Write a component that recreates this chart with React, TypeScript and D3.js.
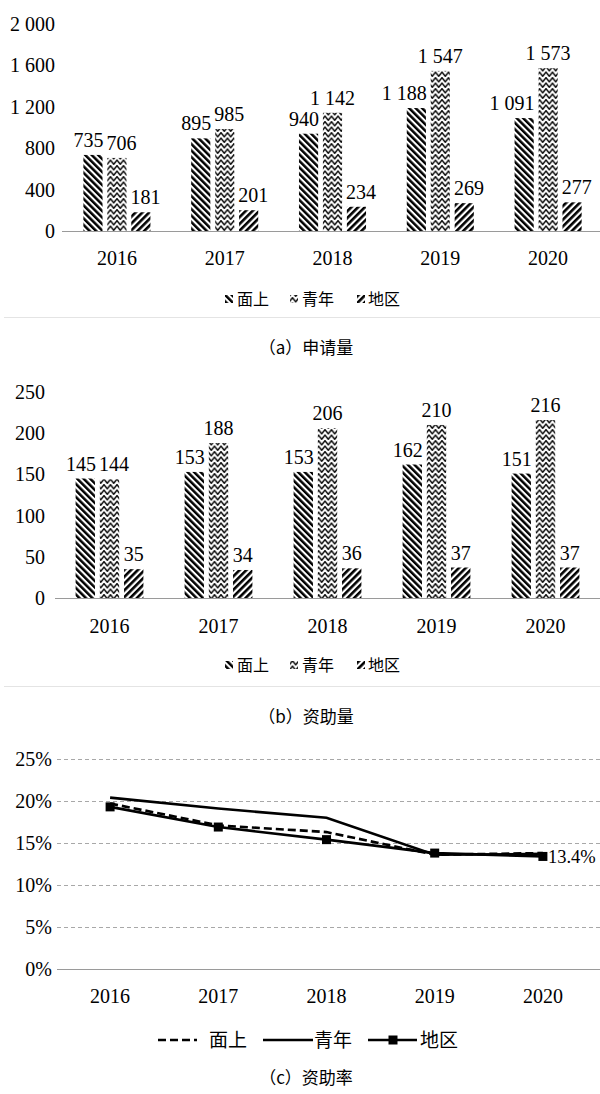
import React from 'react';
import * as d3 from 'd3';

const years = ['2016', '2017', '2018', '2019', '2020'];
const seriesNames = ['面上', '青年', '地区'];

const appMianshang = [735, 895, 940, 1188, 1091];
const appQingnian = [706, 985, 1142, 1547, 1573];
const appDiqu = [181, 201, 234, 269, 277];

const fundMianshang = [145, 153, 153, 162, 151];
const fundQingnian = [144, 188, 206, 210, 216];
const fundDiqu = [35, 34, 36, 37, 37];

const rateMianshang = [19.7, 17.1, 16.3, 13.6, 13.8];
const rateQingnian = [20.4, 19.1, 18.0, 13.6, 13.7];
const rateDiqu = [19.3, 16.9, 15.4, 13.8, 13.4];

const appTicks = [0, 400, 800, 1200, 1600, 2000];
const fundTicks = [0, 50, 100, 150, 200, 250];
const rateTicks = [0, 5, 10, 15, 20, 25];

const captions = ['（a）申请量', '（b）资助量', '（c）资助率'];

const SERIF = '"Liberation Serif", "Times New Roman", Times, serif';
const CJK = '"Noto Sans CJK SC", "Noto Sans", sans-serif';

const locale = d3.formatLocale({ decimal: '.', thousands: ' ', grouping: [3], currency: ['', ''] });
const fmtNum = locale.format(',d');

const patternIds = ['pat-ms', 'pat-qn', 'pat-dq'];

function textW(s: string, fs: number) {
  let w = 0;
  for (const ch of s) {
    if (ch === ' ') w += fs * 0.25;
    else if (ch === '.') w += fs * 0.25;
    else if (ch === '%') w += fs * 0.83;
    else w += fs * 0.5;
  }
  return w;
}

function Patterns() {
  return (
    <defs>
      <pattern id="pat-ms" patternUnits="userSpaceOnUse" width="4.6" height="10" patternTransform="rotate(-45)">
        <rect x="0" y="0" width="4.6" height="10" fill="#fff" />
        <rect x="0" y="0" width="2.5" height="10" fill="#000" />
      </pattern>
      <pattern id="pat-dq" patternUnits="userSpaceOnUse" width="4.8" height="10" patternTransform="rotate(45)">
        <rect x="0" y="0" width="4.8" height="10" fill="#fff" />
        <rect x="0" y="0" width="2.6" height="10" fill="#000" />
      </pattern>
      <pattern id="pat-qn" patternUnits="userSpaceOnUse" width="6.5" height="5.5">
        <rect x="0" y="0" width="6.5" height="5.5" fill="#fff" />
        <path d="M-1.6,2.75 L0,0.7 L3.25,4.8 L6.5,0.7 L8.1,2.75" fill="none" stroke="#000" strokeWidth="1.45" />
      </pattern>
    </defs>
  );
}

type BarPanelProps = {
  data: number[][];
  ticks: number[];
  yDomainMax: number;
  yBase: number;
  yTop: number;
  xStart: number;
  xEnd: number;
  yLabelX: number;
  axisStart: number;
  xLabelY: number;
  legendY: number;
  captionY: number;
  caption: string;
  sepY: number;
};

function BarPanel(p: BarPanelProps) {
  const y = d3.scaleLinear().domain([0, p.yDomainMax]).range([p.yBase, p.yTop]);
  const x0 = d3.scaleBand<string>().domain(years).range([p.xStart, p.xEnd]).paddingInner(0.378).paddingOuter(0.189);
  const x1 = d3.scaleBand<string>().domain(seriesNames).range([0, x0.bandwidth()]).paddingInner(0.2);
  const fs = 20;
  const labelEls: React.ReactNode[] = [];
  years.forEach((yr, gi) => {
    const bars = seriesNames.map((s, si) => {
      const v = p.data[si][gi];
      const bx = (x0(yr) as number) + (x1(s) as number);
      const txt = fmtNum(v);
      const w = textW(txt, fs);
      const top = y(v);
      return { v, txt, w, bx0: bx, bx1: bx + x1.bandwidth(), top, cx: bx + x1.bandwidth() / 2, base: top - 8 };
    });
    bars.forEach((b, i) => {
      const nxt = bars[i + 1];
      if (nxt && nxt.top < b.base - 3 && b.cx + b.w / 2 + 4 > nxt.bx0) b.cx = nxt.bx0 - 4 - b.w / 2;
      const prv = bars[i - 1];
      if (prv && prv.top < b.base - 3 && b.cx - b.w / 2 - 4 < prv.bx1) b.cx = prv.bx1 + 4 + b.w / 2;
    });
    for (let i = 0; i < bars.length - 1; i++) {
      const a = bars[i];
      const c = bars[i + 1];
      if (Math.abs(a.base - c.base) < 14) {
        const ov = a.cx + a.w / 2 + 3 - (c.cx - c.w / 2);
        if (ov > 0) {
          a.cx -= ov / 2;
          c.cx += ov / 2;
        }
      }
    }
    bars.forEach((b, si) => {
      labelEls.push(
        <text key={`l-${gi}-${si}`} x={b.cx} y={b.base} textAnchor="middle" fontFamily={SERIF} fontSize={fs} fill="#000">
          {b.txt}
        </text>
      );
    });
  });

  const legendIcons = [225, 290, 357];
  const legendTexts = [237, 302, 368];

  return (
    <g>
      {p.ticks.map((t) => (
        <text key={`yt-${t}`} x={p.yLabelX} y={y(t)} dy="0.35em" textAnchor="end" fontFamily={SERIF} fontSize={fs} fill="#000">
          {fmtNum(t)}
        </text>
      ))}
      {years.map((yr, gi) =>
        seriesNames.map((s, si) => {
          const v = p.data[si][gi];
          return (
            <rect
              key={`b-${gi}-${si}`}
              x={(x0(yr) as number) + (x1(s) as number)}
              y={y(v)}
              width={x1.bandwidth()}
              height={p.yBase - y(v)}
              fill={`url(#${patternIds[si]})`}
            />
          );
        })
      )}
      <line x1={p.axisStart} x2={600} y1={p.yBase + 0.5} y2={p.yBase + 0.5} stroke="#9a9a9a" strokeWidth={1.2} />
      {labelEls}
      {years.map((yr) => (
        <text key={`xt-${yr}`} x={(x0(yr) as number) + x0.bandwidth() / 2} y={p.xLabelY} textAnchor="middle" fontFamily={SERIF} fontSize={fs} fill="#000">
          {yr}
        </text>
      ))}
      {seriesNames.map((s, si) => (
        <g key={`lg-${s}`}>
          <rect x={legendIcons[si]} y={p.legendY - 4} width={8} height={8} fill={`url(#${patternIds[si]})`} />
          <text x={legendTexts[si]} y={p.legendY} dy="0.36em" fontFamily={CJK} fontSize={16} fill="#000">
            {s}
          </text>
        </g>
      ))}
      <line x1={4} x2={600} y1={p.sepY} y2={p.sepY} stroke="#e4e4e4" strokeWidth={1} />
      <text x={306} y={p.captionY} dy="0.36em" textAnchor="middle" fontFamily={CJK} fontSize={17} fill="#000">
        {p.caption}
      </text>
    </g>
  );
}

function LinePanel() {
  const y = d3.scaleLinear().domain([0, 25]).range([969, 759]);
  const x = d3.scalePoint<string>().domain(years).range([56, 597]).padding(0.5);
  const line = d3
    .line<number>()
    .x((_, i) => x(years[i]) as number)
    .y((d) => y(d));
  const fs = 20;
  const last = years.length - 1;
  return (
    <g>
      {rateTicks.map((t) => (
        <g key={`rt-${t}`}>
          {t > 0 && (
            <line x1={57} x2={600} y1={y(t) + 0.5} y2={y(t) + 0.5} stroke="#a8a8a8" strokeWidth={1} strokeDasharray="4,3" />
          )}
          <text x={52} y={y(t)} dy="0.35em" textAnchor="end" fontFamily={SERIF} fontSize={fs} fill="#000">
            {`${t}%`}
          </text>
        </g>
      ))}
      <line x1={57} x2={600} y1={969.5} y2={969.5} stroke="#9a9a9a" strokeWidth={1.2} />
      <path d={line(rateMianshang) || ''} fill="none" stroke="#000" strokeWidth={2.6} strokeDasharray="8,4" />
      <path d={line(rateQingnian) || ''} fill="none" stroke="#000" strokeWidth={2.6} />
      <path d={line(rateDiqu) || ''} fill="none" stroke="#000" strokeWidth={2.6} />
      {rateDiqu.map((v, i) => (
        <rect key={`m-${i}`} x={(x(years[i]) as number) - 4.5} y={y(v) - 4.5} width={9} height={9} fill="#000" />
      ))}
      <text x={(x(years[last]) as number) + 5} y={y(rateDiqu[last])} dy="0.35em" fontFamily={SERIF} fontSize={18.5} fill="#000">
        {`${rateDiqu[last]}%`}
      </text>
      {years.map((yr) => (
        <text key={`cx-${yr}`} x={x(yr) as number} y={1003} textAnchor="middle" fontFamily={SERIF} fontSize={fs} fill="#000">
          {yr}
        </text>
      ))}
      <line x1={158} x2={197} y1={1040} y2={1040} stroke="#000" strokeWidth={2.6} strokeDasharray="8,4" />
      <text x={209} y={1040} dy="0.36em" fontFamily={CJK} fontSize={19} fill="#000">{seriesNames[0]}</text>
      <line x1={263} x2={313} y1={1040} y2={1040} stroke="#000" strokeWidth={2.6} />
      <text x={314} y={1040} dy="0.36em" fontFamily={CJK} fontSize={19} fill="#000">{seriesNames[1]}</text>
      <line x1={368} x2={417} y1={1040} y2={1040} stroke="#000" strokeWidth={2.6} />
      <rect x={388.5} y={1035.5} width={9} height={9} fill="#000" />
      <text x={420} y={1040} dy="0.36em" fontFamily={CJK} fontSize={19} fill="#000">{seriesNames[2]}</text>
      <text x={306} y={1078} dy="0.36em" textAnchor="middle" fontFamily={CJK} fontSize={17} fill="#000">
        {captions[2]}
      </text>
    </g>
  );
}

export default function App() {
  return (
    <div>
      <style>{`body{margin:0;background:#fff}`}</style>
      <svg width={600} height={1094} viewBox="0 0 600 1094" style={{ display: 'block', background: '#fff' }}>
        <Patterns />
        <BarPanel
          data={[appMianshang, appQingnian, appDiqu]}
          ticks={appTicks}
          yDomainMax={2000}
          yBase={231}
          yTop={24}
          xStart={63}
          xEnd={602}
          yLabelX={55}
          axisStart={62}
          xLabelY={265}
          legendY={299}
          captionY={348}
          caption={captions[0]}
          sepY={317.5}
        />
        <BarPanel
          data={[fundMianshang, fundQingnian, fundDiqu]}
          ticks={fundTicks}
          yDomainMax={250}
          yBase={598}
          yTop={392}
          xStart={55}
          xEnd={600}
          yLabelX={45}
          axisStart={55}
          xLabelY={633}
          legendY={665}
          captionY={717}
          caption={captions[1]}
          sepY={686.5}
        />
        <LinePanel />
      </svg>
    </div>
  );
}
